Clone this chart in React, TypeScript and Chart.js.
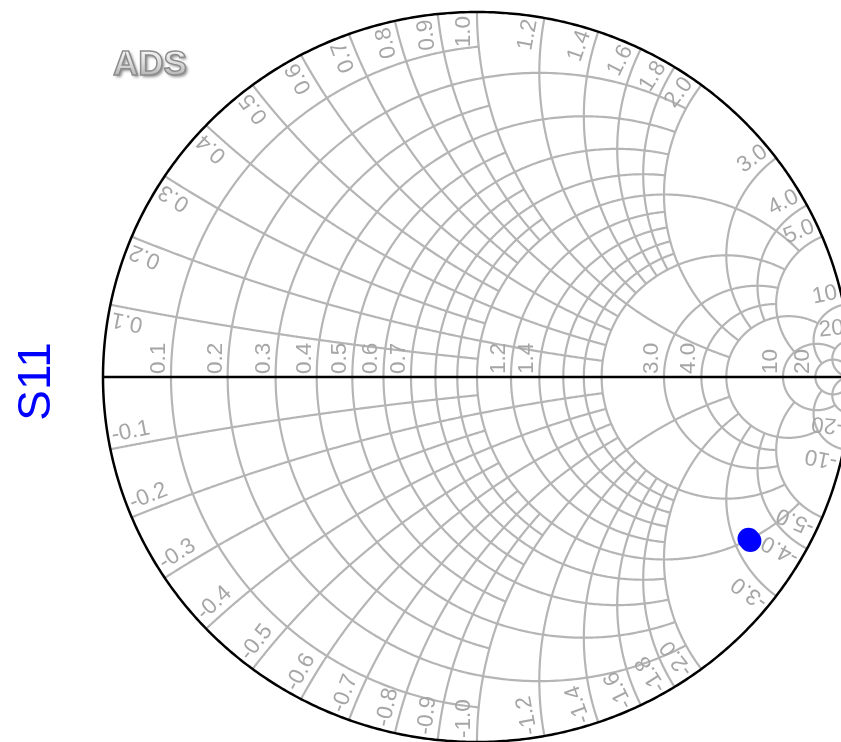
import { useEffect, useRef } from 'react';
import { Chart, registerables } from 'chart.js';

Chart.register(...registerables);

// Constant-resistance circles, and the |reactance| up to which each one is drawn.
const resistanceValues = [0.1, 0.2, 0.3, 0.4, 0.5, 0.6, 0.7, 0.8, 0.9, 1.0, 1.2, 1.4, 1.6, 1.8, 2.0, 3.0, 4.0, 5.0, 10, 20];
const resistanceExtent = [1, 2, 1, 2, 1, 2, 1, 2, 1, 5, 2, 2, 2, 2, 5, 5, 5, 10, 20, Infinity];

// Constant-reactance arcs, and the resistance up to which each one is drawn.
const reactanceValues = [0.1, 0.2, 0.3, 0.4, 0.5, 0.6, 0.7, 0.8, 0.9, 1.0, 1.2, 1.4, 1.6, 1.8, 2.0, 3.0, 4.0, 5.0, 10, 20];
const reactanceExtent = [1, 2, 1, 2, 1, 2, 1, 2, 1, 5, 2, 2, 2, 2, 5, 5, 5, 10, 20, Infinity];

// Labels written along the real axis.
const resistanceTickValues = [0.1, 0.2, 0.3, 0.4, 0.5, 0.6, 0.7, 1.2, 1.4, 3.0, 4.0, 10, 20];
const resistanceTickLabels = ['0.1', '0.2', '0.3', '0.4', '0.5', '0.6', '0.7', '1.2', '1.4', '3.0', '4.0', '10', '20'];

// Labels written around the rim (mirrored with a minus sign below the axis).
const reactanceTickValues = [0.1, 0.2, 0.3, 0.4, 0.5, 0.6, 0.7, 0.8, 0.9, 1.0, 1.2, 1.4, 1.6, 1.8, 2.0, 3.0, 4.0, 5.0, 10, 20];
const reactanceTickLabels = ['0.1', '0.2', '0.3', '0.4', '0.5', '0.6', '0.7', '0.8', '0.9', '1.0', '1.2', '1.4', '1.6', '1.8', '2.0', '3.0', '4.0', '5.0', '10', '20'];

// S11 reflection coefficient (real / imaginary parts).
const s11Real = [0.726, 0.731];
const s11Imag = [-0.443, -0.449];

const GRID_COLOR = '#b5b5b5';
const LABEL_COLOR = '#a6a6a6';
const LABEL_FONT = '22.5px "Liberation Sans", Arial, sans-serif';

// Reflection coefficient of a normalised impedance r + jx.
const gammaOf = (r: number, x: number): [number, number] => {
  const d = (r + 1) * (r + 1) + x * x;
  return [(r * r + x * x - 1) / d, (2 * x) / d];
};

const smithGrid = {
  id: 'smithGrid',
  beforeDatasetsDraw(chart: any) {
    const { ctx } = chart;
    const xs = chart.scales.x;
    const ys = chart.scales.y;
    const px = (u: number) => xs.getPixelForValue(u);
    const py = (v: number) => ys.getPixelForValue(v);
    const poly = (pts: [number, number][]) => {
      ctx.beginPath();
      pts.forEach(([u, v], i) => (i ? ctx.lineTo(px(u), py(v)) : ctx.moveTo(px(u), py(v))));
      ctx.stroke();
    };
    const N = 360;

    ctx.save();
    ctx.lineJoin = 'round';
    ctx.lineCap = 'butt';
    ctx.strokeStyle = GRID_COLOR;
    ctx.lineWidth = 2.2;

    // resistance circles
    resistanceValues.forEach((r, i) => {
      const lim = resistanceExtent[i];
      const c = r / (1 + r);
      const rho = 1 / (1 + r);
      let a0 = 0;
      if (isFinite(lim)) {
        const [u, v] = gammaOf(r, lim);
        a0 = Math.atan2(v, u - c);
      }
      const pts: [number, number][] = [];
      for (let k = 0; k <= N; k++) {
        const a = a0 + ((2 * Math.PI - 2 * a0) * k) / N;
        pts.push([c + rho * Math.cos(a), rho * Math.sin(a)]);
      }
      poly(pts);
    });

    // reactance arcs, positive and negative
    reactanceValues.forEach((x, i) => {
      const lim = reactanceExtent[i];
      const cy = 1 / x;
      const rho = 1 / x;
      const [u0, v0] = gammaOf(0, x);
      const [u1, v1] = isFinite(lim) ? gammaOf(lim, x) : [1, 0];
      const b0 = Math.atan2(v0 - cy, u0 - 1);
      let span = Math.atan2(v1 - cy, u1 - 1) - b0;
      while (span < 0) span += 2 * Math.PI;
      for (const s of [1, -1]) {
        const pts: [number, number][] = [];
        for (let k = 0; k <= N; k++) {
          const b = b0 + (span * k) / N;
          pts.push([1 + rho * Math.cos(b), s * (cy + rho * Math.sin(b))]);
        }
        poly(pts);
      }
    });

    // outer rim and real axis
    ctx.strokeStyle = '#000000';
    ctx.lineWidth = 2.5;
    const rim: [number, number][] = [];
    for (let k = 0; k <= 720; k++) {
      const a = (2 * Math.PI * k) / 720;
      rim.push([Math.cos(a), Math.sin(a)]);
    }
    poly(rim);
    poly([[-1, 0], [1, 0]]);

    ctx.font = LABEL_FONT;
    ctx.fillStyle = LABEL_COLOR;
    ctx.textBaseline = 'alphabetic';

    // resistance labels on the real axis
    resistanceTickValues.forEach((r, i) => {
      const u = (r - 1) / (r + 1);
      ctx.save();
      ctx.translate(px(u), py(0));
      ctx.rotate(-Math.PI / 2);
      ctx.textAlign = 'left';
      ctx.fillText(resistanceTickLabels[i], 3, -6);
      ctx.restore();
    });

    // reactance labels around the rim
    const kx = px(1) - px(0);
    const ky = py(0) - py(1);
    const INSET = 4;
    const OFF = 7;
    reactanceTickValues.forEach((x, i) => {
      const cy = 1 / x;
      const [u0, v0] = gammaOf(0, x);
      const b0 = Math.atan2(v0 - cy, u0 - 1);
      let dx = Math.sin(b0) * kx;
      let dy = Math.cos(b0) * ky;
      const len = Math.hypot(dx, dy);
      dx /= len;
      dy /= len;
      const X0 = px(u0);
      const label = reactanceTickLabels[i];

      ctx.save();
      ctx.translate(X0 - INSET * dx, py(v0) - INSET * dy);
      ctx.rotate(Math.atan2(dy, dx));
      ctx.textAlign = 'right';
      ctx.fillText(label, 0, -OFF);
      ctx.restore();

      ctx.save();
      ctx.translate(X0 - INSET * dx, py(-v0) + INSET * dy);
      ctx.rotate(Math.atan2(dy, -dx));
      ctx.textAlign = 'left';
      ctx.fillText('-' + label, 0, -OFF);
      ctx.restore();
    });

    ctx.restore();
  },
  afterDraw(chart: any) {
    const { ctx } = chart;
    ctx.save();

    // trace name, written vertically
    ctx.font = '46px "Liberation Sans", Arial, sans-serif';
    ctx.fillStyle = '#0000ff';
    ctx.textAlign = 'center';
    ctx.textBaseline = 'alphabetic';
    ctx.translate(49.5, 381.5);
    ctx.rotate(-Math.PI / 2);
    ctx.fillText('S11', 0, 0);
    ctx.restore();

    // embossed "ADS" mark
    ctx.save();
    ctx.font = 'bold 35px "Liberation Sans", Arial, sans-serif';
    ctx.textAlign = 'left';
    ctx.textBaseline = 'alphabetic';
    const grad = ctx.createLinearGradient(0, 50, 0, 76);
    grad.addColorStop(0, '#f6f6f6');
    grad.addColorStop(0.5, '#dcdcdc');
    grad.addColorStop(1, '#b4b4b4');
    ctx.shadowColor = 'rgba(0,0,0,0.45)';
    ctx.shadowBlur = 3;
    ctx.shadowOffsetX = 2;
    ctx.shadowOffsetY = 2;
    ctx.fillStyle = grad;
    ctx.fillText('ADS', 113, 75);
    ctx.shadowColor = 'transparent';
    ctx.lineWidth = 1.5;
    ctx.strokeStyle = '#8c8c8c';
    ctx.strokeText('ADS', 113, 75);
    ctx.restore();
  },
};

export default function App() {
  const ref = useRef<HTMLCanvasElement>(null);

  useEffect(() => {
    if (!ref.current) return;
    const chart = new Chart(ref.current, {
      type: 'scatter',
      data: {
        datasets: [
          {
            label: 'S11',
            data: s11Real.map((u, i) => ({ x: u, y: s11Imag[i] })),
            backgroundColor: '#0000ff',
            borderColor: '#0000ff',
            borderWidth: 0,
            pointRadius: 11,
            pointHoverRadius: 11,
            clip: false as any,
          },
        ],
      },
      options: {
        animation: false,
        responsive: false,
        events: [],
        layout: { autoPadding: false, padding: { left: 103, top: 12, right: 0, bottom: 0 } },
        scales: {
          x: { type: 'linear', min: -1, max: 0.9733, display: false },
          y: { type: 'linear', min: -1, max: 1, display: false },
        },
        plugins: { legend: { display: false }, tooltip: { enabled: false } },
      },
      plugins: [smithGrid],
    });
    return () => chart.destroy();
  }, []);

  return (
    <div style={{ position: 'absolute', left: 0, top: 0, width: 841, height: 742, background: '#ffffff' }}>
      <canvas ref={ref} width={841} height={742} style={{ display: 'block' }} />
    </div>
  );
}
